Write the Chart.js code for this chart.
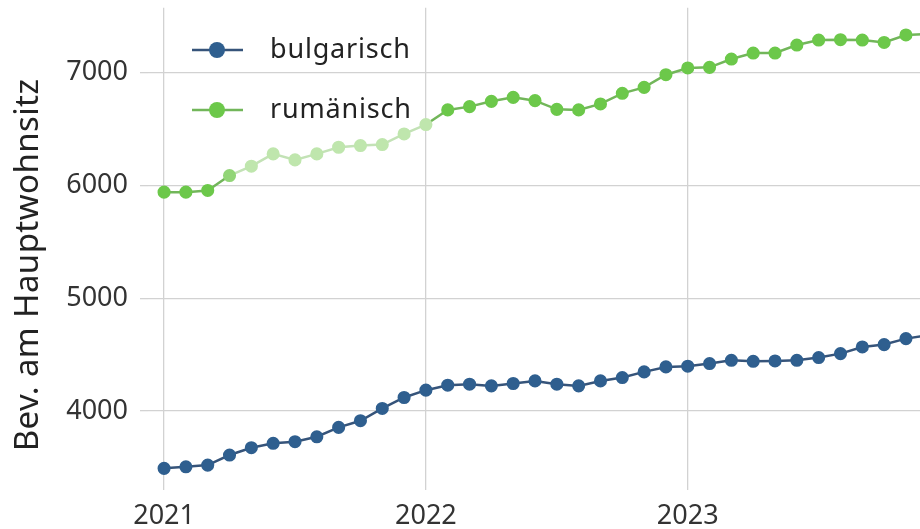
<!DOCTYPE html>
<html><head><meta charset="utf-8">
<script src="https://cdn.jsdelivr.net/npm/chart.js@4"></script>
<style>
html,body{margin:0;padding:0;background:#fff;overflow:hidden;width:920px;height:529px;}
#wrap{position:relative;width:940px;height:529px;}
</style></head><body>
<div id="wrap"><canvas id="c"></canvas></div>
<script>
const months = ["2021-01","2021-02","2021-03","2021-04","2021-05","2021-06","2021-07","2021-08","2021-09","2021-10","2021-11","2021-12",
"2022-01","2022-02","2022-03","2022-04","2022-05","2022-06","2022-07","2022-08","2022-09","2022-10","2022-11","2022-12",
"2023-01","2023-02","2023-03","2023-04","2023-05","2023-06","2023-07","2023-08","2023-09","2023-10","2023-11","2023-12"];
const bulgarisch = [3493,3507,3522,3611,3676,3715,3729,3773,3856,3915,4024,4121,4186,4230,4239,4224,4245,4268,4239,4224,4268,4298,4348,4392,4398,4422,4451,4442,4445,4451,4475,4510,4569,4590,4643,4673];
const rumaenisch = [5941,5941,5956,6088,6171,6280,6227,6280,6339,6354,6363,6457,6540,6670,6699,6746,6781,6752,6675,6670,6723,6817,6870,6982,7042,7047,7121,7174,7174,7245,7289,7292,7289,7268,7334,7342];
const seriesNames = ["bulgarisch","rumänisch"];
const yTicks = [4000,5000,6000,7000];
const xTicks = [2021,2022,2023];
const yTitle = "Bev. am Hauptwohnsitz";

const FONT = "'Noto Sans', sans-serif";
const toX = m => { const [y,mo] = m.split("-").map(Number); return y + (mo-1)/12; };
const pts = vals => months.map((m,i)=>({x:toX(m), y:vals[i]}));

// styling of a faded stretch seen in the reference
const FADE_FROM = 4, FADE_TO = 12;
const greenPt = "#6cc84a", greenPtFade = "#bfe6ad", greenPtMid = "#92d577";
const greenLn = "#72b65a", greenLnFade = "#c3e2b6";
const bluePt = "#2f5f8f", blueLn = "#36547a";

const legendPlugin = {
  id:'inlegend',
  afterDraw(chart){
    const ctx = chart.ctx;
    ctx.save();
    chart.data.datasets.forEach((ds,i)=>{
      const y = 50 + i*60;
      ctx.strokeStyle = ds.legendLine; ctx.lineWidth = 2.5;
      ctx.beginPath(); ctx.moveTo(192,y); ctx.lineTo(243,y); ctx.stroke();
      ctx.fillStyle = ds.legendPoint;
      ctx.beginPath(); ctx.arc(217,y,8,0,Math.PI*2); ctx.fill();
      ctx.fillStyle = "#222"; ctx.font = "27px " + FONT;
      ctx.letterSpacing = "0.8px";
      ctx.textAlign = "left"; ctx.textBaseline = "middle";
      ctx.fillText(ds.label, 270, y);
    });
    ctx.save();
    ctx.letterSpacing = "0.4px";
    ctx.translate(29, 265); ctx.rotate(-Math.PI/2);
    ctx.fillStyle = "#222"; ctx.font = "33px " + FONT;
    ctx.textAlign = "center"; ctx.textBaseline = "middle";
    ctx.fillText(yTitle, 0, 0);
    ctx.restore();
    ctx.restore();
  }
};

new Chart(document.getElementById('c'), {
  type:'line',
  data:{datasets:[
    {label:seriesNames[0], data:pts(bulgarisch), borderColor:blueLn, backgroundColor:bluePt,
     pointBackgroundColor:bluePt, pointBorderColor:bluePt, pointRadius:5.3, borderWidth:2.5,
     legendLine:blueLn, legendPoint:bluePt},
    {label:seriesNames[1], data:pts(rumaenisch), borderColor:greenLn, backgroundColor:greenPt,
     pointBackgroundColor: c => (c.dataIndex>=FADE_FROM && c.dataIndex<=FADE_TO) ? greenPtFade : (c.dataIndex===FADE_FROM-1 ? greenPtMid : greenPt),
     pointBorderColor: c => (c.dataIndex>=FADE_FROM && c.dataIndex<=FADE_TO) ? greenPtFade : (c.dataIndex===FADE_FROM-1 ? greenPtMid : greenPt),
     segment:{borderColor: c => (c.p0DataIndex>=FADE_FROM-1 && c.p1DataIndex<=FADE_TO) ? greenLnFade : greenLn},
     pointRadius:5.3, borderWidth:2.5, legendLine:greenLn, legendPoint:greenPt}
  ]},
  options:{
    responsive:true, maintainAspectRatio:false, animation:false,
    layout:{padding:{top:7,right:0,left:0,bottom:0}},
    plugins:{legend:{display:false}, tooltip:{enabled:false}},
    scales:{
      x:{type:'linear', min:2020.9386, max:2023.9336,
         afterBuildTicks: s => { s.ticks = xTicks.map(v=>({value:v})); },
         afterFit: s => { s.height = 47; s.paddingLeft = 0; s.paddingRight = 0; },
         grid:{color:'#d2d2d2', lineWidth:1.3, tickLength:8},
         border:{display:false},
         ticks:{color:'#333', font:{family:FONT, size:27}, padding:10, callback:v=>String(v), maxRotation:0}},
      y:{type:'linear', min:3372, max:7575,
         afterBuildTicks: s => { s.ticks = yTicks.map(v=>({value:v})); },
         afterFit: s => { s.width = 148; s.paddingTop = 0; s.paddingBottom = 0; },
         grid:{color:'#d2d2d2', lineWidth:1.3, tickLength:8},
         border:{display:false},
         ticks:{color:'#333', font:{family:FONT, size:27}, padding:12, callback:v=>String(v)}}
    }
  },
  plugins:[legendPlugin]
});
</script></body></html>
